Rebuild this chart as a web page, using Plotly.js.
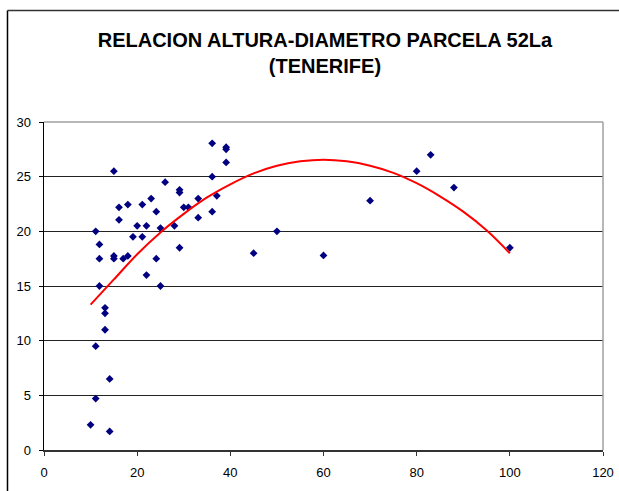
<!DOCTYPE html>
<html>
<head>
<meta charset="utf-8">
<script src="https://cdn.plot.ly/plotly-3.0.1.min.js"></script>
<style>
html,body{margin:0;padding:0;background:#fff;}
#chart{width:619px;height:491px;}
</style>
</head>
<body>
<div id="chart"></div>
<script>
// Observed data (diameter, height)
const diametro = [10,11.1,11.9,11.9,11.9,13.1,13.1,13.1,11.1,14.1,11.1,14.1,15,15,15,16.1,16.1,17,18,18,19.1,20,21.1,21.1,22,22,23,24.1,24.1,25,25,26,28,29.1,29.1,29.1,30,31,33.1,33.1,36.1,36.1,36.1,37.1,39.1,39.1,39.1,45,50,60,70,80,83,88,100];
const altura   = [2.3,20.0,18.8,17.5,15.0,13.0,12.5,11.0,9.5,6.5,4.7,1.7,25.5,17.75,17.5,22.2,21.05,17.5,22.45,17.75,19.5,20.5,22.45,19.5,20.5,16.0,23.0,21.8,17.5,20.3,15.0,24.5,20.5,23.8,23.55,18.5,22.2,22.2,23.0,21.25,28.05,25.0,21.8,23.25,27.7,27.5,26.3,18.0,20.0,17.8,22.8,25.5,27.0,24.0,18.5];
// Trend curve
const trendX = [10,15,20,25,30,35,40,45,50,55,60,65,70,75,80,85,90,95,100];
const trendY = [13.3,15.6,17.9,19.9,21.6,23.1,24.3,25.3,26.0,26.4,26.55,26.4,26.0,25.35,24.4,23.2,21.8,20.1,18.0];
const xTicks = [0,20,40,60,80,100,120];
const yTicks = [0,5,10,15,20,25,30];
const titleText = "RELACION ALTURA-DIAMETRO PARCELA 52La<br>(TENERIFE)";

const traces = [
  {x: diametro, y: altura, type: 'scatter', mode: 'markers',
   marker: {symbol: 'diamond', size: 6, color: '#000080'}, hoverinfo: 'x+y'},
  {x: trendX, y: trendY, type: 'scatter', mode: 'lines',
   line: {color: '#ff0000', width: 2, shape: 'spline'}, hoverinfo: 'skip'}
];

const layout = {
  width: 619, height: 491,
  margin: {l: 44, r: 16, t: 122, b: 41},
  paper_bgcolor: '#fff', plot_bgcolor: '#fff',
  showlegend: false,
  font: {family: 'Liberation Sans, Arial, sans-serif', size: 13, color: '#000'},
  title: {text: titleText, x: 0.525, xanchor: 'center', y: 0.905, yanchor: 'top',
          font: {family: 'Liberation Sans, Arial, sans-serif', size: 20, color: '#000', weight: 'bold'}},
  xaxis: {range: [0, 120], tickvals: xTicks, ticktext: xTicks.map(String),
          showgrid: false, zeroline: false, showline: true, linecolor: '#333', linewidth: 1.5,
          ticks: 'outside', ticklen: 4, tickcolor: '#333', ticklabelstandoff: 6, fixedrange: true},
  yaxis: {range: [0, 30], tickvals: yTicks, ticktext: yTicks.map(String),
          showgrid: true, gridcolor: '#222', gridwidth: 1, zeroline: false,
          showline: true, linecolor: '#000', linewidth: 1.5,
          ticks: 'outside', ticklen: 4, tickcolor: '#000', ticklabelstandoff: 5, fixedrange: true},
  shapes: [
    {type: 'line', xref: 'paper', yref: 'paper', x0: 0, x1: 1, y0: 1, y1: 1, line: {color: '#a0a0a0', width: 1.5}},
    {type: 'line', xref: 'paper', yref: 'paper', x0: 1, x1: 1, y0: 0, y1: 1, line: {color: '#a0a0a0', width: 1.5}},
    // outer chart frame (left and top edges)
    {type: 'line', xref: 'paper', yref: 'paper', x0: -0.0653, x1: -0.0653, y0: -0.2, y1: 1.34, line: {color: '#000', width: 1.5}},
    {type: 'line', xref: 'paper', yref: 'paper', x0: -0.0653, x1: 1.2, y0: 1.34, y1: 1.34, line: {color: '#333', width: 1.5}}
  ]
};

Plotly.newPlot('chart', traces, layout, {displayModeBar: false, staticPlot: true});
</script>
</body>
</html>
